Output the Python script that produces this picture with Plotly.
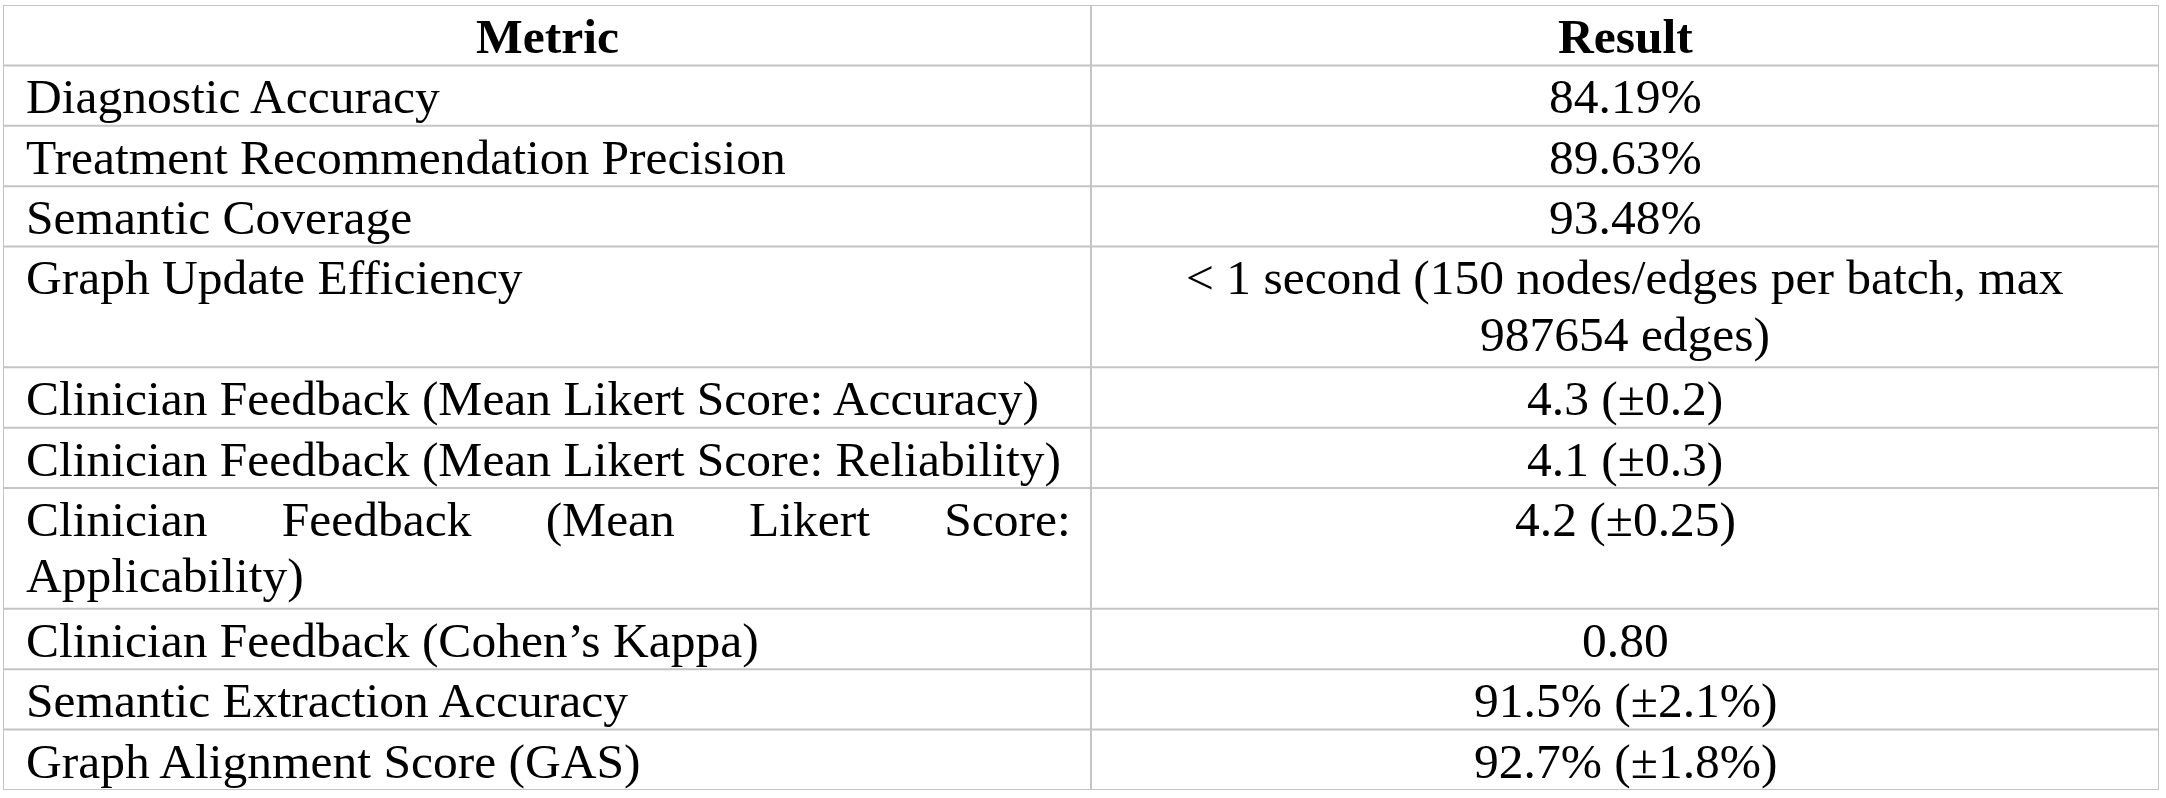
import plotly.graph_objects as go

W, H = 2166, 798

header = ["Metric", "Result"]

# "\n" marks where the reference wraps a cell onto a second line
metrics = [
    "Diagnostic Accuracy",
    "Treatment Recommendation Precision",
    "Semantic Coverage",
    "Graph Update Efficiency",
    "Clinician Feedback (Mean Likert Score: Accuracy)",
    "Clinician Feedback (Mean Likert Score: Reliability)",
    "Clinician Feedback (Mean Likert Score:\nApplicability)",
    "Clinician Feedback (Cohen\u2019s Kappa)",
    "Semantic Extraction Accuracy",
    "Graph Alignment Score (GAS)",
]

results = [
    "84.19%",
    "89.63%",
    "93.48%",
    "< 1 second (150 nodes/edges per batch, max\n987654 edges)",
    "4.3 (\u00b10.2)",
    "4.1 (\u00b10.3)",
    "4.2 (\u00b10.25)",
    "0.80",
    "91.5% (\u00b12.1%)",
    "92.7% (\u00b11.8%)",
]

# style
col_widths = [1088, 1068]
first_line = 0.52         # first text line centre below a row's top (row units)
line_step = 0.93          # spacing between wrapped lines (row units)
text_pad = 21             # px, left padding of the metric column
grid = dict(color="#c4c4c4", width=2)
font = dict(family="Liberation Serif, Times New Roman, serif", size=49.5, color="black")


def justify(line):
    # spread the words of a wrapped (non-final) line across the cell
    return ("\u00a0" * 6).join(line.split(" "))


rows = [(header[0], header[1], True)] + [(m, r, False) for m, r in zip(metrics, results)]
n_lines = [max(len(a.split("\n")), len(b.split("\n"))) for a, b, _ in rows]
edges = [0]
for n in n_lines:
    edges.append(edges[-1] + n)
total = edges[-1]
x_left, x_mid, x_right = 0, col_widths[0], col_widths[0] + col_widths[1]

fig = go.Figure()

shapes = []
for y in edges:
    shapes.append(dict(type="line", xref="x", yref="y", x0=x_left, x1=x_right,
                       y0=y, y1=y, line=grid))
for x in (x_left, x_mid, x_right):
    shapes.append(dict(type="line", xref="x", yref="y", x0=x, x1=x,
                       y0=0, y1=total, line=grid))

annotations = []
for (metric, result, is_head), top in zip(rows, edges[:-1]):
    m_lines = metric.split("\n")
    r_lines = result.split("\n")
    for k, txt in enumerate(m_lines):
        y = top + first_line + k * line_step
        if is_head:
            annotations.append(dict(x=(x_left + x_mid) / 2, y=y,
                                    text="<b>" + txt + "</b>", xanchor="center",
                                    yanchor="middle", showarrow=False, font=font))
        else:
            if k < len(m_lines) - 1:
                txt = justify(txt)
            annotations.append(dict(x=x_left, y=y, text=txt,
                                    xanchor="left", xshift=text_pad, yanchor="middle",
                                    showarrow=False, font=font))
    for k, txt in enumerate(r_lines):
        if is_head:
            txt = "<b>" + txt + "</b>"
        annotations.append(dict(x=(x_mid + x_right) / 2, y=top + first_line + k * line_step,
                                text=txt, xanchor="center", yanchor="middle",
                                showarrow=False, font=font))

fig.update_layout(
    width=W, height=H,
    margin=dict(l=3, r=W - 2159, t=5, b=H - 790),
    paper_bgcolor="white",
    plot_bgcolor="white",
    shapes=shapes,
    annotations=annotations,
    xaxis=dict(range=[x_left, x_right], visible=False, fixedrange=True),
    yaxis=dict(range=[total, 0], visible=False, fixedrange=True),
    showlegend=False,
)

fig.write_html("out.html", config=dict(displayModeBar=False),
               post_script="document.body.style.margin='0';")
